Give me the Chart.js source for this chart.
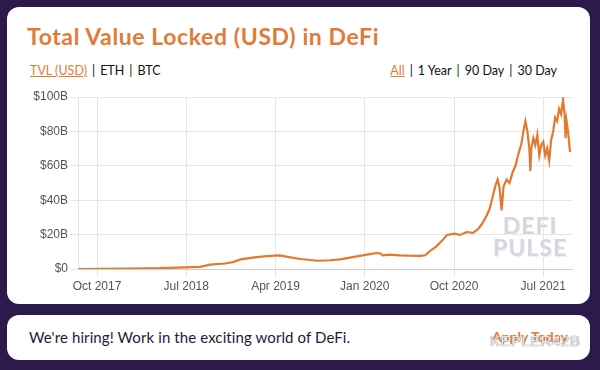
<!DOCTYPE html>
<html>
<head>
<meta charset="utf-8">
<script src="https://cdn.jsdelivr.net/npm/chart.js@4.4.0/dist/chart.umd.min.js"></script>
<style>
  body { margin: 0; width: 600px; height: 370px; background: #2b1a4b; overflow: hidden; font-family: Lato, "Open Sans", sans-serif; }
  .card { position: absolute; left: 7px; width: 583px; background: #fff; border-radius: 12px; }
  #top { top: 7px; height: 297px; }
  #bottom { top: 315px; height: 45px; }
  h1 { position: absolute; left: 20px; top: 15px; margin: 0; font-size: 23px; font-weight: 700; color: #e27b37; letter-spacing: 0.6px; }
  .tabs { position: absolute; top: 56px; font-size: 12.5px; color: #111; }
  .tabs u { color: #e27b37; }
  .tabs i { font-style: normal; margin: 0 5px; }
  #tabsL { left: 23px; }
  #tabsR { right: 33px; }
  #wrap { position: absolute; left: 14px; top: 84px; width: 566px; height: 212px; }
  #pulse { position: absolute; left: 493px; top: 214px; font: 700 23px Lato, sans-serif; color: #d6d6de; text-align: center; line-height: 22px; letter-spacing: 1px; text-shadow: 1px 1px 0 #eeeef2; }
  #hire { position: absolute; left: 22px; top: 13px; font-size: 15px; color: #1e1b3a; letter-spacing: 0.1px; }
  #apply { position: absolute; right: 22px; top: 13px; font-size: 14px; font-weight: 700; color: #e27b37; }
  #mark { position: absolute; left: 490px; top: 332px; font: 15px "Liberation Sans", sans-serif; color: rgba(245,245,248,0.9); letter-spacing: 0.5px; text-shadow: 0 0 1px #888, 0 0 1px #888; }
</style>
</head>
<body>
<div class="card" id="top">
  <h1>Total Value Locked (USD) in DeFi</h1>
  <div class="tabs" id="tabsL"><u>TVL (USD)</u><i>|</i>ETH<i>|</i>BTC</div>
  <div class="tabs" id="tabsR"><u>All</u><i>|</i>1 Year<i>|</i>90 Day<i>|</i>30 Day</div>
</div>
<div id="wrap"><canvas id="myChart"></canvas></div>
<div id="pulse">DEFI<br>PULSE</div>
<div class="card" id="bottom">
  <div id="hire">We're hiring! Work in the exciting world of DeFi.</div>
  <div id="apply">Apply Today</div>
</div>
<div id="mark">KEPLER42B</div>
<script>
// months counted from Jan 2017 (Oct 2017 = 9)
const months = [
  7.08, 9, 12.3, 15.35, 17.9, 19.4, 20.4, 21.9, 22.7, 23.5, 24.9, 26.1, 27.4, 28.5,
  29.5, 31.2, 32.5, 33.5, 35.2, 36.5, 37.2, 37.6, 37.8, 38.5, 39.5, 40.5, 41.6, 42.1,
  42.6, 43.2, 43.8, 44.3, 45.1, 45.6, 46.3, 46.9, 47.4, 47.8, 48.2, 48.6, 48.9, 49.2,
  49.4, 49.6, 49.8, 50.0, 50.3, 50.6, 50.9, 51.2, 51.5, 51.8, 52.0, 52.2, 52.4, 52.6,
  52.7, 52.8, 53.0, 53.2, 53.4, 53.6, 53.8, 54.0, 54.2, 54.4, 54.6, 54.8, 55.0, 55.2,
  55.4, 55.6, 55.8, 56.0, 56.15, 56.25, 56.35, 56.5, 56.7
];
// TVL in billions USD
const tvl = [
  0, 0.1, 0.3, 0.5, 1.0, 1.2, 2.5, 3.2, 4.0, 5.6, 6.8, 7.5, 7.9, 6.8,
  5.8, 4.8, 5.1, 5.6, 7.3, 8.6, 9.3, 9.0, 7.9, 8.3, 7.9, 7.7, 7.6, 8.0,
  10.5, 13.0, 16.5, 19.8, 20.5, 19.8, 21.5, 21.0, 23.0, 26.0, 30.0, 35.0, 42.0, 49.0,
  52.0, 47.0, 34.0, 48.0, 52.0, 50.0, 56.0, 60.0, 67.0, 73.0, 80.0, 86.0, 80.0, 70.0,
  57.0, 70.0, 76.0, 72.0, 78.0, 66.0, 72.0, 74.0, 66.0, 70.0, 63.0, 75.0, 80.0, 88.0,
  86.0, 93.0, 90.0, 98.5, 90.0, 76.0, 86.0, 80.0, 68.0
];
const tickMonths = [9, 18, 27, 36, 45, 54];
const tickLabels = ['Oct 2017', 'Jul 2018', 'Apr 2019', 'Jan 2020', 'Oct 2020', 'Jul 2021'];
const yTicks = [0, 20, 40, 60, 80, 100];

const main = () => {
  const points = months.map((m, i) => ({ x: m, y: tvl[i] }));
  const ctx = document.getElementById('myChart').getContext('2d');
  const tickFont = { family: '"Liberation Sans", Arial, sans-serif', size: 12 };

  const config = {
    type: 'line',
    data: {
      datasets: [
        {
          label: 'TVL (USD)',
          data: points,
          borderColor: '#e4782f',
          borderWidth: 2.2,
          pointRadius: 0,
          tension: 0,
        },
      ],
    },
    options: {
      responsive: true,
      maintainAspectRatio: false,
      animation: false,
      layout: { padding: { top: 13, right: 8 } },
      plugins: {
        legend: { display: false },
        tooltip: { enabled: false },
      },
      scales: {
        x: {
          type: 'linear',
          min: 7.08,
          max: 56.9,
          afterBuildTicks: (scale) => {
            scale.ticks = tickMonths.map((v) => ({ value: v }));
          },
          afterFit: (scale) => { scale.height = 27; },
          ticks: {
            color: '#555',
            font: tickFont,
            padding: 2,
            maxRotation: 0,
            callback: (v) => tickLabels[tickMonths.indexOf(v)],
          },
          grid: { color: '#e6e6e6', tickLength: 8 },
          border: { color: '#cfcfcf' },
        },
        y: {
          min: 0,
          max: 100,
          afterBuildTicks: (scale) => {
            scale.ticks = yTicks.map((v) => ({ value: v }));
          },
          afterFit: (scale) => { scale.width = 64; },
          ticks: {
            color: '#555',
            font: tickFont,
            padding: 2,
            callback: (v) => (v === 0 ? '$0' : '$' + v + 'B'),
          },
          grid: { color: '#e6e6e6', tickLength: 8 },
          border: { color: '#e6e6e6' },
        },
      },
    },
  };
  new Chart(ctx, config);
};

main();
</script>
</body>
</html>
